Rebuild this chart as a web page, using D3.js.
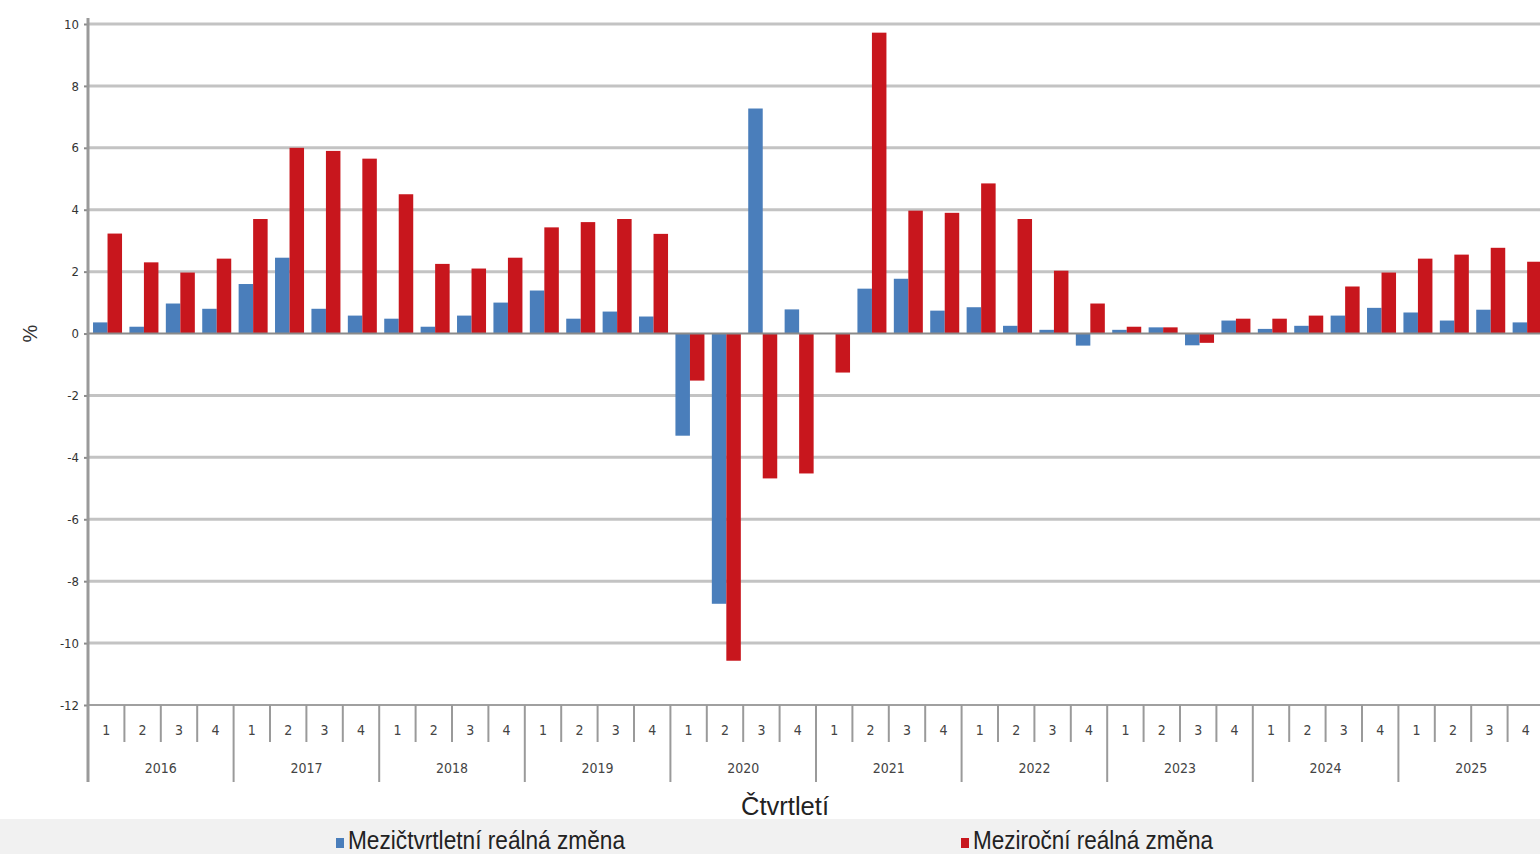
<!DOCTYPE html>
<html>
<head>
<meta charset="utf-8">
<script src="https://cdn.jsdelivr.net/npm/d3@7"></script>
<style>
  body { margin: 0; background: #fff; }
  svg { display: block; font-family: "Liberation Sans", Arial, sans-serif; }
</style>
</head>
<body>
<svg id="graf"></svg>
<script>
// Roky a čtvrtletí
const roky = ["2016", "2017", "2018", "2019", "2020", "2021", "2022", "2023", "2024", "2025"];
const ctvrtleti = ["1", "2", "3", "4"];

// Mezičtvrtletní reálná změna (%)
const mezictvrtletni = [
  0.36, 0.22, 0.97, 0.80,
  1.60, 2.45, 0.80, 0.58,
  0.48, 0.22, 0.58, 1.00,
  1.39, 0.48, 0.71, 0.55,
  -3.30, -8.73, 7.27, 0.78,
  0.00, 1.45, 1.77, 0.74,
  0.85, 0.25, 0.12, -0.39,
  0.12, 0.20, -0.38, 0.42,
  0.15, 0.25, 0.58, 0.83,
  0.68, 0.42, 0.77, 0.36
];

// Meziroční reálná změna (%)
const mezirocni = [
  3.23, 2.30, 1.97, 2.42,
  3.70, 6.00, 5.90, 5.65,
  4.50, 2.25, 2.10, 2.45,
  3.43, 3.60, 3.70, 3.22,
  -1.52, -10.57, -4.68, -4.52,
  -1.26, 9.72, 3.97, 3.90,
  4.85, 3.70, 2.03, 0.97,
  0.22, 0.20, -0.30, 0.48,
  0.48, 0.58, 1.52, 1.97,
  2.42, 2.55, 2.77, 2.32
];

const yTicks = [10, 8, 6, 4, 2, 0, -2, -4, -6, -8, -10, -12];

const sirka = 1540, vyska = 854;
const svg = d3.select("#graf").attr("width", sirka).attr("height", vyska);

const levo = 88, pravo = 1544, nahore = 24, dole = 705;

// klíče čtvrtletí
const klice = [];
roky.forEach(r => ctvrtleti.forEach(q => klice.push(r + "-" + q)));

const x = d3.scaleBand().domain(klice).range([levo, pravo]);
const xSerie = d3.scaleBand().domain(["mq", "my"])
  .range([0, x.bandwidth()]).paddingOuter(0.255).align(0.68);
const y = d3.scaleLinear().domain([-12, 10]).range([dole, nahore]);

// Mřížka
svg.append("g").selectAll("line").data(yTicks.filter(d => d !== 0 && d !== -12)).join("line")
  .attr("x1", levo).attr("x2", sirka)
  .attr("y1", d => y(d)).attr("y2", d => y(d))
  .attr("stroke", "#c3c3c3").attr("stroke-width", 3);

// Sloupce
const data = klice.map((k, i) => ({ k, mq: mezictvrtletni[i], my: mezirocni[i] }));
const barvy = { mq: "#4a7ebb", my: "#c8161d" };

["mq", "my"].forEach(s => {
  svg.append("g").selectAll("rect").data(data).join("rect")
    .attr("x", d => x(d.k) + xSerie(s))
    .attr("width", xSerie.bandwidth())
    .attr("y", d => y(Math.max(0, d[s])))
    .attr("height", d => Math.abs(y(d[s]) - y(0)))
    .attr("fill", barvy[s]);
});

// Nulová čára
svg.append("line")
  .attr("x1", levo).attr("x2", sirka).attr("y1", y(0)).attr("y2", y(0))
  .attr("stroke", "#8a8a8a").attr("stroke-width", 2);

// Spodní osa
svg.append("line")
  .attr("x1", levo).attr("x2", sirka).attr("y1", dole).attr("y2", dole)
  .attr("stroke", "#a0a0a0").attr("stroke-width", 2);

// Osa Y
const osaY = d3.axisLeft(y).tickValues(yTicks).tickSize(4).tickPadding(5)
  .tickFormat(d => String(d));
const gy = svg.append("g").attr("transform", `translate(${levo},0)`).call(osaY);
gy.select(".domain").remove();
gy.selectAll(".tick line").attr("stroke", "#8a8a8a").attr("stroke-width", 2);
gy.selectAll(".tick text").attr("font-size", 13).attr("fill", "#333")
  .attr("font-family", "'DejaVu Sans Condensed', 'Liberation Sans Narrow', sans-serif");
svg.append("line")
  .attr("x1", levo).attr("x2", levo).attr("y1", 18).attr("y2", 782)
  .attr("stroke", "#9a9a9a").attr("stroke-width", 3);

// Oddělovače čtvrtletí a roků
svg.append("g").selectAll("line").data(klice.slice(1)).join("line")
  .attr("x1", d => x(d)).attr("x2", d => x(d))
  .attr("y1", dole)
  .attr("y2", d => d.endsWith("-1") ? 782 : 742)
  .attr("stroke", "#9a9a9a").attr("stroke-width", 2);

svg.append("g").selectAll("text").data(klice).join("text")
  .attr("x", d => x(d) + x.bandwidth() / 2)
  .attr("y", 735)
  .attr("text-anchor", "middle")
  .attr("font-size", 14).attr("fill", "#444")
  .attr("font-family", "'DejaVu Sans Condensed', 'Liberation Sans Narrow', sans-serif")
  .text(d => d.split("-")[1]);

svg.append("g").selectAll("text").data(roky).join("text")
  .attr("x", r => x(r + "-1") + x.bandwidth() * 2)
  .attr("y", 773)
  .attr("text-anchor", "middle")
  .attr("font-size", 14).attr("fill", "#444")
  .attr("font-family", "'DejaVu Sans Condensed', 'Liberation Sans Narrow', sans-serif")
  .text(r => r);

// Popisky os
svg.append("text")
  .attr("transform", `translate(37,${y(0)}) rotate(-90)`)
  .attr("text-anchor", "middle")
  .attr("font-size", 20).attr("fill", "#333")
  .text("%");

svg.append("text")
  .attr("x", 741).attr("y", 815)
  .attr("font-size", 26).attr("fill", "#222")
  .attr("textLength", 88).attr("lengthAdjust", "spacingAndGlyphs")
  .text("Čtvrtletí");

// Legenda
svg.append("rect").attr("x", 0).attr("y", 819).attr("width", sirka).attr("height", vyska - 819)
  .attr("fill", "#f1f1f1");

const legenda = [
  { text: "Mezičtvrtletní reálná změna", barva: barvy.mq, x: 336, w: 277 },
  { text: "Meziroční reálná změna", barva: barvy.my, x: 961, w: 240 }
];
legenda.forEach(l => {
  svg.append("rect").attr("x", l.x).attr("y", 838).attr("width", 8).attr("height", 10)
    .attr("fill", l.barva);
  svg.append("text")
    .attr("x", l.x + 12).attr("y", 849)
    .attr("font-size", 26).attr("fill", "#222")
    .attr("textLength", l.w).attr("lengthAdjust", "spacingAndGlyphs")
    .text(l.text);
});
</script>
</body>
</html>
